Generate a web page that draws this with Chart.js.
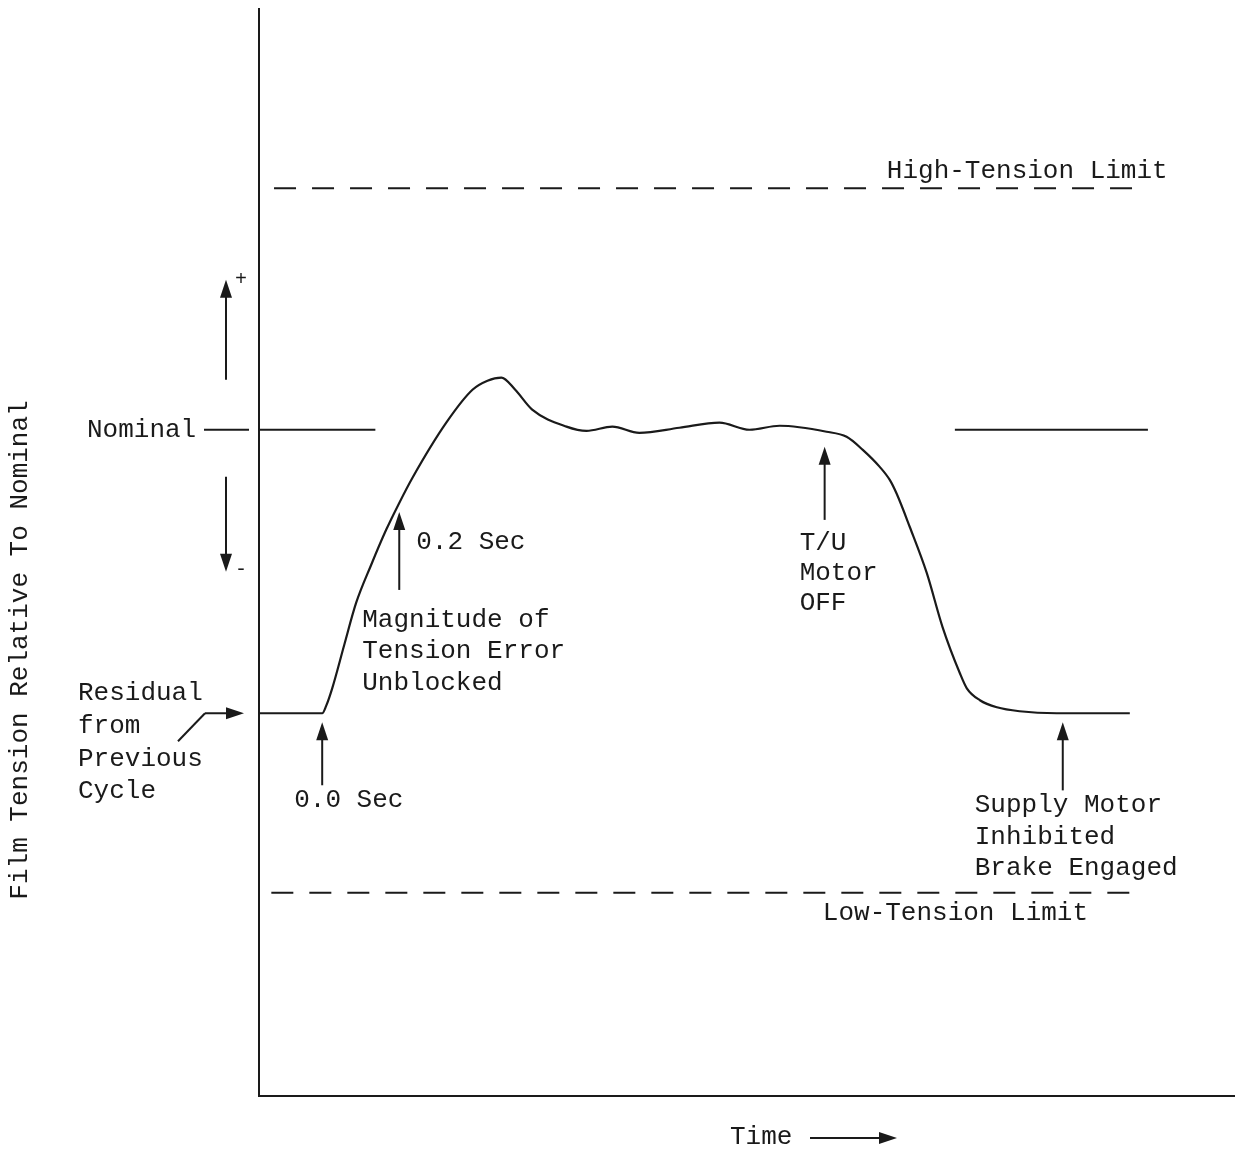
<!DOCTYPE html>
<html>
<head>
<meta charset="utf-8">
<title>Film Tension vs Time</title>
<script src="https://cdn.jsdelivr.net/npm/chart.js@4.4.1/dist/chart.umd.min.js"></script>
<style>
  html, body { margin: 0; padding: 0; background: #fff; }
  #wrap { width: 1235px; height: 1150px; position: relative; }
</style>
</head>
<body>
<div id="wrap"><canvas id="chart-tension"></canvas></div>
<script>
// --- datos (tiempo en segundos, tension relativa al nominal) ---
const timeSec = [-0.164, 0, 0.010, 0.026, 0.057, 0.088, 0.127, 0.166, 0.200, 0.234, 0.322, 0.390, 0.429, 0.465,
  0.501, 0.545, 0.634, 0.686, 0.753, 0.823, 0.927, 1.031, 1.109, 1.187, 1.309, 1.361, 1.403,
  1.447, 1.473, 1.491, 1.525, 1.569, 1.610, 1.655, 1.673, 1.707, 1.751, 1.810, 1.906, 2.096];
const tension = [-10.0, -10.0, -9.75, -9.12, -7.60, -6.11, -4.77, -3.53, -2.58, -1.70, 0.25, 1.41, 1.73, 1.84,
  1.41, 0.71, 0.11, -0.04, 0.11, -0.11, 0.07, 0.25, 0.00, 0.14, -0.07, -0.25, -0.71,
  -1.31, -1.77, -2.26, -3.43, -5.05, -6.96, -8.59, -9.12, -9.54, -9.79, -9.93, -10.0, -10.0];

const nominalLevel = 0;
const highLimit = 8.52;
const lowLimit = -16.33;
const nominalLeftSpan = [-0.164, 0.138];
const nominalRightSpan = [1.642, 2.143];
const highLimitSpan = [-0.125, 2.135];
const lowLimitSpan = [-0.132, 2.122];

const xRange = [-0.164, 2.369];
const yRange = [-23.5, 14.84];

// flechas de eventos: [tiempo, tension cola, tension punta]
const eventTimes = [0.0, 0.2, 1.304, 1.922];
const eventTail = [-12.54, -5.65, -3.18, -12.72];
const eventHead = [-10.32, -2.90, -0.60, -10.32];

const FONT = '26px "Liberation Mono", "DejaVu Sans Mono", monospace';
const INK = '#1a1a1a';

function span(a, v) { return [{ x: a[0], y: v }, { x: a[1], y: v }]; }

function drawArrow(ctx, x1, y1, x2, y2) {
  const ang = Math.atan2(y2 - y1, x2 - x1);
  const L = 18, W = 6;
  ctx.beginPath();
  ctx.moveTo(x1, y1);
  ctx.lineTo(x2 - Math.cos(ang) * L * 0.6, y2 - Math.sin(ang) * L * 0.6);
  ctx.stroke();
  ctx.beginPath();
  ctx.moveTo(x2, y2);
  ctx.lineTo(x2 - Math.cos(ang) * L - Math.sin(ang) * W, y2 - Math.sin(ang) * L + Math.cos(ang) * W);
  ctx.lineTo(x2 - Math.cos(ang) * L + Math.sin(ang) * W, y2 - Math.sin(ang) * L - Math.cos(ang) * W);
  ctx.closePath();
  ctx.fill();
}

function lines(ctx, arr, x, y0, step) {
  arr.forEach((t, i) => ctx.fillText(t, x, y0 + i * step));
}

const anotaciones = {
  id: 'anotaciones',
  afterDraw(chart) {
    const ctx = chart.ctx;
    const xs = chart.scales.x, ys = chart.scales.y;
    const px = v => xs.getPixelForValue(v);
    const py = v => ys.getPixelForValue(v);
    ctx.save();
    ctx.strokeStyle = INK;
    ctx.fillStyle = INK;
    ctx.lineWidth = 2;
    ctx.font = FONT;
    ctx.textBaseline = 'middle';
    ctx.textAlign = 'left';

    // flechas de eventos
    for (let i = 0; i < eventTimes.length; i++) {
      const x = px(eventTimes[i]);
      drawArrow(ctx, x, py(eventTail[i]), x, py(eventHead[i]));
    }

    // textos de eventos
    lines(ctx, ['0.0 Sec'], px(eventTimes[0]) - 28, py(eventTail[0]) + 15, 32);
    lines(ctx, ['0.2 Sec'], px(eventTimes[1]) + 17, py(eventHead[1]) + 30, 32);
    lines(ctx, ['Magnitude of', 'Tension Error', 'Unblocked'], px(eventTimes[1]) - 37, py(eventTail[1]) + 30, 31.5);
    lines(ctx, ['T/U', 'Motor', 'OFF'], px(eventTimes[2]) - 25, py(eventTail[2]) + 23, 30);
    lines(ctx, ['Supply Motor', 'Inhibited', 'Brake Engaged'], px(eventTimes[3]) - 88, py(eventTail[3]) + 15, 31.5);

    // limites
    ctx.fillText('High-Tension Limit', px(highLimitSpan[1]) - 258, py(highLimit) - 17);
    ctx.fillText('Low-Tension Limit', px(lowLimitSpan[1]) - 317, py(lowLimit) + 20);

    // nominal
    const yN = py(nominalLevel);
    ctx.fillText('Nominal', 87, yN);
    ctx.beginPath(); ctx.moveTo(204, yN); ctx.lineTo(249, yN); ctx.stroke();

    // flechas + / -
    const ax = 226;
    drawArrow(ctx, ax, yN - 50, ax, yN - 150);
    drawArrow(ctx, ax, yN + 47, ax, yN + 142);
    ctx.font = '20px "Liberation Mono", monospace';
    ctx.fillText('+', 235, yN - 150);
    ctx.fillText('-', 235, yN + 140);
    ctx.font = FONT;

    // residual
    const yR = py(tension[0]);
    lines(ctx, ['Residual', 'from', 'Previous', 'Cycle'], 78, yR - 20, 32.7);
    ctx.beginPath(); ctx.moveTo(178, yR + 28); ctx.lineTo(205, yR); ctx.stroke();
    drawArrow(ctx, 205, yR, 244, yR);

    // titulo eje y
    ctx.save();
    ctx.translate(20, 650);
    ctx.rotate(-Math.PI / 2);
    ctx.textAlign = 'center';
    ctx.fillText('Film Tension Relative To Nominal', 0, 0);
    ctx.restore();

    // titulo eje x
    ctx.fillText('Time', 730, 1137);
    drawArrow(ctx, 810, 1138, 897, 1138);

    ctx.restore();
  }
};

const lineStyle = { borderColor: INK, borderWidth: 2, pointRadius: 0, fill: false, showLine: true };

new Chart(document.getElementById('chart-tension'), {
  type: 'scatter',
  data: {
    datasets: [
      Object.assign({ label: 'Tension', data: timeSec.map((t, i) => ({ x: t, y: tension[i] })),
        cubicInterpolationMode: 'monotone' }, lineStyle, { borderWidth: 2.2 }),
      Object.assign({ label: 'Nominal L', data: span(nominalLeftSpan, nominalLevel) }, lineStyle),
      Object.assign({ label: 'Nominal R', data: span(nominalRightSpan, nominalLevel) }, lineStyle),
      Object.assign({ label: 'High', data: span(highLimitSpan, highLimit), borderDash: [22, 16] }, lineStyle),
      Object.assign({ label: 'Low', data: span(lowLimitSpan, lowLimit), borderDash: [22, 16] }, lineStyle)
    ]
  },
  plugins: [anotaciones],
  options: {
    responsive: true,
    maintainAspectRatio: false,
    animation: false,
    layout: { padding: { left: 259, top: 9, right: 0, bottom: 54 } },
    plugins: { legend: { display: false }, tooltip: { enabled: false } },
    scales: {
      x: {
        type: 'linear', min: xRange[0], max: xRange[1],
        grid: { display: false, drawTicks: false },
        border: { display: true, color: INK, width: 2 },
        ticks: { display: false }
      },
      y: {
        type: 'linear', min: yRange[0], max: yRange[1],
        grid: { display: false, drawTicks: false },
        border: { display: true, color: INK, width: 2 },
        ticks: { display: false }
      }
    }
  }
});
</script>
</body>
</html>
